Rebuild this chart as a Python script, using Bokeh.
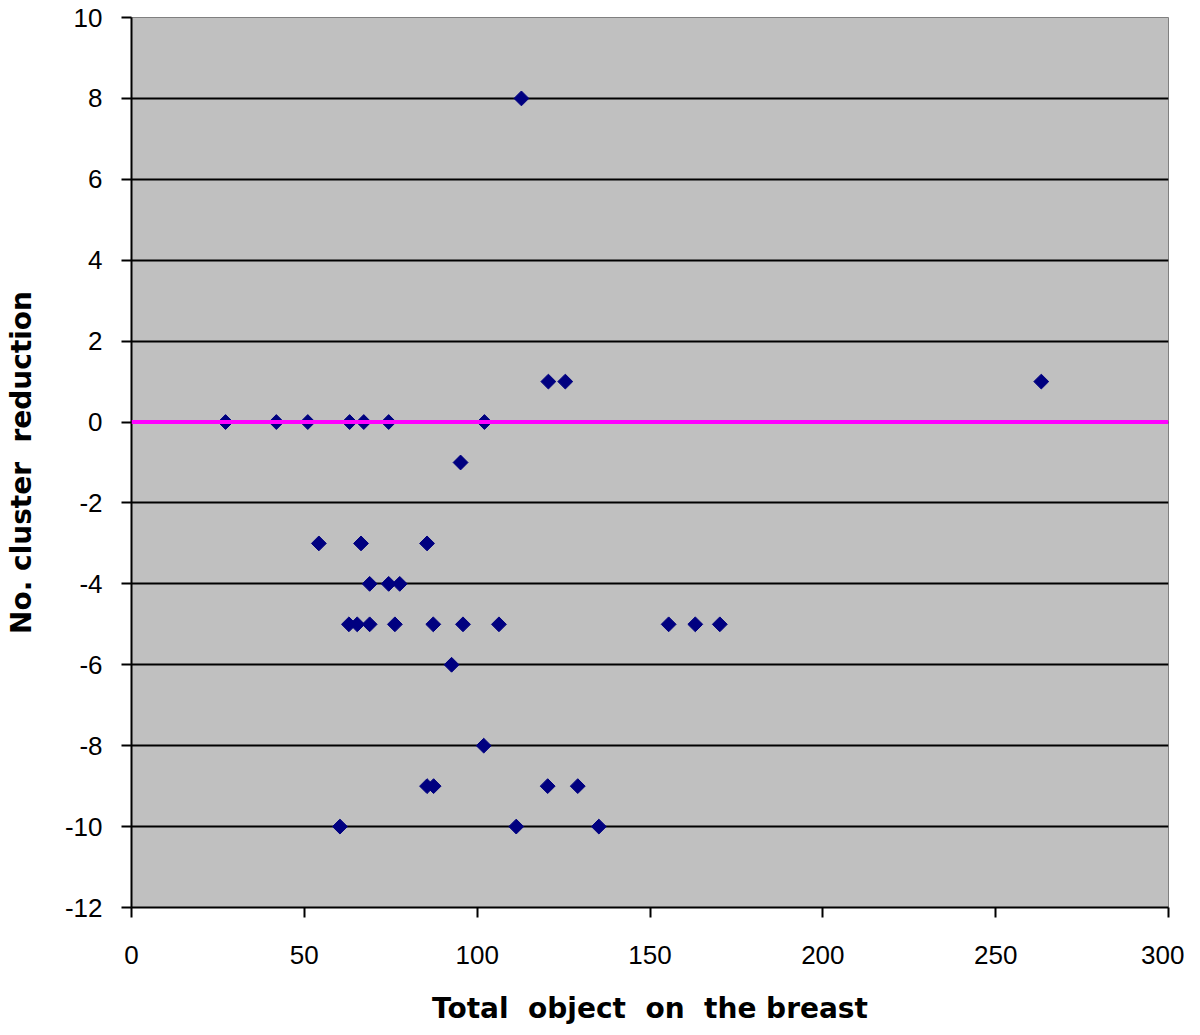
from bokeh.plotting import figure
from bokeh.models import ColumnDataSource, Span, FixedTicker, Range1d, PrintfTickFormatter
from bokeh.embed import file_html
from bokeh.resources import INLINE
import math

# Data
total_objects = [27.2, 41.9, 51.0, 63.1, 67.2, 74.4, 102.1,
                 95.2,
                 120.6, 125.5, 263.2,
                 112.8,
                 54.2, 66.4, 85.5,
                 68.9, 74.4, 77.6,
                 62.9, 65.3, 68.9, 76.2, 87.3, 95.9, 106.3, 155.4, 163.1, 170.2,
                 92.6,
                 101.9,
                 85.5, 87.4, 120.4, 129.1,
                 60.3, 111.3, 135.2]
cluster_reduction = [0, 0, 0, 0, 0, 0, 0,
                     -1,
                     1, 1, 1,
                     8,
                     -3, -3, -3,
                     -4, -4, -4,
                     -5, -5, -5, -5, -5, -5, -5, -5, -5, -5,
                     -6,
                     -8,
                     -9, -9, -9, -9,
                     -10, -10, -10]
x_ticks = [0, 50, 100, 150, 200, 250, 300]
y_ticks = [-12, -10, -8, -6, -4, -2, 0, 2, 4, 6, 8, 10]

NB = "\u00a0"
x_title = f"Total{NB} object{NB} on{NB} the breast"
y_title = f"No. cluster{NB} reduction"

src = ColumnDataSource(data=dict(x=total_objects, y=cluster_reduction))

p = figure(width=1184, height=1027, output_backend="svg", toolbar_location=None,
           x_range=Range1d(0, 300), y_range=Range1d(-12, 10),
           min_border_left=131, min_border_right=16, min_border_top=17, min_border_bottom=119)
p.background_fill_color = "#c0c0c0"
p.border_fill_color = "white"
p.outline_line_color = "#808080"
p.outline_line_width = 1

p.xaxis.ticker = FixedTicker(ticks=x_ticks)
p.yaxis.ticker = FixedTicker(ticks=y_ticks)
for ax in (p.xaxis[0], p.yaxis[0]):
    ax.formatter = PrintfTickFormatter(format="%d")
    ax.axis_line_color = "black"
    ax.axis_line_width = 2
    ax.major_tick_line_color = "black"
    ax.major_tick_line_width = 2
    ax.major_tick_in = 0
    ax.major_tick_out = 10
    ax.minor_tick_line_color = None
    ax.major_label_text_font = "Liberation Sans"
    ax.major_label_text_font_size = "26px"
    ax.major_label_text_color = "black"
    ax.axis_label_text_font = "DejaVu Sans"
    ax.axis_label_text_font_style = "bold"
    ax.axis_label_text_font_size = "28px"
    ax.axis_label_text_color = "black"
p.xaxis.major_label_standoff = 28
p.yaxis.major_label_standoff = 19
p.xaxis.axis_label = x_title
p.yaxis.axis_label = y_title
p.xaxis.axis_label_standoff = 25
p.yaxis.axis_label_standoff = 24

p.xgrid.grid_line_color = None
p.ygrid.grid_line_color = "black"
p.ygrid.grid_line_width = 2

p.add_layout(Span(location=0, dimension="width", line_color="#ff00ff", line_width=4))

p.scatter("x", "y", source=src, marker="square", size=10.5, angle=math.pi / 4,
          fill_color="#000080", line_color="#000080")

open("out.html", "w").write(file_html(p, INLINE))
